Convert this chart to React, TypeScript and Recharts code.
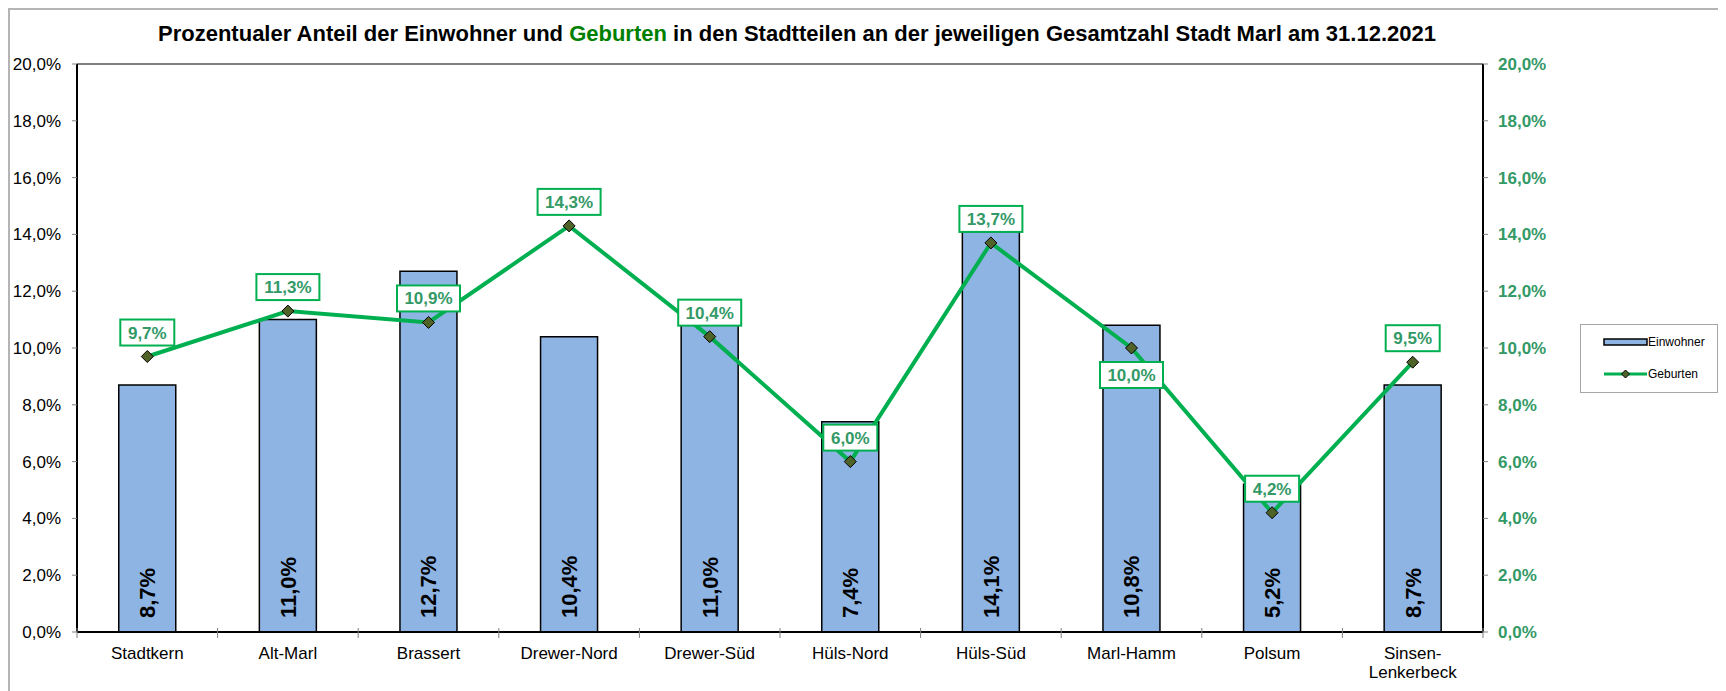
import React from 'react';
import { ComposedChart, Bar, Line, XAxis, YAxis, ReferenceLine, LabelList, Legend } from 'recharts';

const categories = ['Stadtkern', 'Alt-Marl', 'Brassert', 'Drewer-Nord', 'Drewer-Süd', 'Hüls-Nord', 'Hüls-Süd', 'Marl-Hamm', 'Polsum', 'Sinsen-Lenkerbeck'];
const tickLabels = ['Stadtkern', 'Alt-Marl', 'Brassert', 'Drewer-Nord', 'Drewer-Süd', 'Hüls-Nord', 'Hüls-Süd', 'Marl-Hamm', 'Polsum', 'Sinsen-\nLenkerbeck'];
const einwohner = [8.7, 11.0, 12.7, 10.4, 11.0, 7.4, 14.1, 10.8, 5.2, 8.7];
const geburten = [9.7, 11.3, 10.9, 14.3, 10.4, 6.0, 13.7, 10.0, 4.2, 9.5];
const yTicks = [0, 2, 4, 6, 8, 10, 12, 14, 16, 18, 20];
const labelsBelow = ['Marl-Hamm'];

const data = categories.map((c, i) => ({
  name: c,
  label: tickLabels[i],
  einwohner: einwohner[i],
  geburten: geburten[i],
}));

const FONT = '"Liberation Sans", Arial, Helvetica, sans-serif';
const W = 1718;
const H = 683;
const MARGIN = { top: 56, right: 163, bottom: 9, left: 0 };
const LEFT_W = 69;
const RIGHT_W = 80;
const PLOT_W = W - MARGIN.left - MARGIN.right - LEFT_W - RIGHT_W;
const BAND = PLOT_W / categories.length;

const BAR_COLOR = '#8EB4E3';
const LINE_COLOR = '#00B050';
const LABEL_GREEN = '#339966';

const fmt = (v: number) => v.toFixed(1).replace('.', ',') + '%';

const XTick = (props: any) => {
  const { x, y, payload, index } = props;
  const axisY = y - 5;
  const lines = String(payload.value).split('\n');
  return (
    <g>
      <line x1={x - BAND / 2} x2={x - BAND / 2} y1={axisY - 4} y2={axisY + 6} stroke="#808080" strokeWidth={1} />
      {index === categories.length - 1 && (
        <line x1={x + BAND / 2} x2={x + BAND / 2} y1={axisY - 4} y2={axisY + 6} stroke="#808080" strokeWidth={1} />
      )}
      <text x={x} y={axisY + 27} textAnchor="middle" fontSize={17} fill="#000" fontFamily={FONT}>
        {lines.map((l, i) => (
          <tspan key={i} x={x} dy={i === 0 ? 0 : 19}>{l}</tspan>
        ))}
      </text>
    </g>
  );
};

const BarLabel = (props: any) => {
  const { x, y, width, height, value } = props;
  const cx = x + width / 2 + 8;
  const base = y + height - 14;
  return (
    <text
      x={cx}
      y={base}
      transform={`rotate(-90, ${cx}, ${base})`}
      textAnchor="start"
      fontSize={22}
      fontWeight="bold"
      fill="#000"
      fontFamily={FONT}
    >
      {fmt(value)}
    </text>
  );
};

const LineLabel = (props: any) => {
  const { x, y, value, index } = props;
  const txt = fmt(value);
  const w = 18 + 9 * txt.length;
  const h = 26;
  const below = labelsBelow.includes(categories[index]);
  const top = below ? y + 14 : y - 11 - h;
  return (
    <g>
      <rect x={x - w / 2} y={top} width={w} height={h} fill="#fff" stroke={LINE_COLOR} strokeWidth={2} />
      <text x={x} y={top + h / 2 + 6} textAnchor="middle" fontSize={17} fontWeight="bold" fill={LABEL_GREEN} fontFamily={FONT}>
        {txt}
      </text>
    </g>
  );
};

const Diamond = (props: any) => {
  const { cx, cy, index } = props;
  const r = 6;
  return (
    <path
      key={`d-${index}`}
      d={`M ${cx} ${cy - r} L ${cx + r} ${cy} L ${cx} ${cy + r} L ${cx - r} ${cy} Z`}
      fill="#4F6228"
      stroke="#000"
      strokeWidth={1}
    />
  );
};

const LegendBox = () => (
  <svg width={138} height={69} style={{ display: 'block', fontFamily: FONT, overflow: 'visible' }}>
    <rect x={0.5} y={0.5} width={137} height={68} fill="#fff" stroke="#A6A6A6" strokeWidth={1} />
    <rect x={24} y={15} width={43} height={6} fill={BAR_COLOR} stroke="#000" strokeWidth={1.5} />
    <line x1={24} x2={67} y1={50} y2={50} stroke={LINE_COLOR} strokeWidth={3} />
    <path d="M 45.5 46 L 49.5 50 L 45.5 54 L 41.5 50 Z" fill="#4F6228" stroke="#000" strokeWidth={1} />
    <text x={68} y={22} fontSize={12} fontFamily={FONT} fill="#000">Einwohner</text>
    <text x={68} y={54} fontSize={12} fontFamily={FONT} fill="#000">Geburten</text>
  </svg>
);

export default function App() {
  return (
    <div style={{ position: 'relative', width: W, height: H, fontFamily: FONT }}>
      <div
        style={{
          position: 'absolute',
          left: 0,
          top: 0,
          width: W,
          height: H,
          borderTop: '2px solid #B4B4B4',
          borderLeft: '2px solid #B4B4B4',
          boxSizing: 'border-box',
          pointerEvents: 'none',
        }}
      />
      <div
        style={{
          position: 'absolute',
          left: 0,
          top: 13,
          width: 1578,
          textAlign: 'center',
          fontSize: 22,
          fontWeight: 'bold',
          lineHeight: '26px',
          color: '#000',
          fontFamily: FONT,
          zIndex: 2,
        }}
      >
        Prozentualer Anteil der Einwohner und <span style={{ color: '#008000' }}>Geburten</span> in den Stadtteilen an der jeweiligen Gesamtzahl Stadt Marl am 31.12.2021
      </div>
      <ComposedChart width={W} height={H} data={data} margin={MARGIN} barCategoryGap="29.7%">
        <XAxis
          dataKey="label"
          xAxisId="x"
          height={50}
          tickSize={5}
          tickMargin={0}
          tickLine={false}
          axisLine={{ stroke: '#000', strokeWidth: 2 }}
          tick={<XTick />}
          interval={0}
        />
        <YAxis
          yAxisId="left"
          orientation="left"
          width={LEFT_W}
          domain={[0, 20]}
          ticks={yTicks}
          tickFormatter={fmt}
          tickSize={5}
          tickMargin={11}
          tickLine={{ stroke: '#808080' }}
          axisLine={{ stroke: '#000', strokeWidth: 2 }}
          tick={{ fontSize: 17, fill: '#000', fontFamily: FONT }}
          allowDataOverflow
          interval={0}
        />
        <YAxis
          yAxisId="right"
          orientation="right"
          width={RIGHT_W}
          domain={[0, 20]}
          ticks={yTicks}
          tickFormatter={fmt}
          tickSize={5}
          tickMargin={10}
          tickLine={{ stroke: '#808080' }}
          axisLine={{ stroke: '#000', strokeWidth: 2 }}
          tick={{ fontSize: 17, fill: LABEL_GREEN, fontWeight: 'bold', fontFamily: FONT }}
          allowDataOverflow
          interval={0}
        />
        <ReferenceLine yAxisId="left" xAxisId="x" y={20} stroke="#808080" strokeWidth={2} />
        <Legend
          layout="horizontal"
          verticalAlign="middle"
          align="center"
          width={138}
          height={69}
          content={<LegendBox />}
          wrapperStyle={{ position: 'absolute', left: 1572, top: 316, width: 138, height: 69, overflow: 'visible' }}
        />
        <Bar
          dataKey="einwohner"
          name="Einwohner"
          xAxisId="x"
          yAxisId="left"
          fill={BAR_COLOR}
          stroke="#000"
          strokeWidth={1.5}
          isAnimationActive={false}
        >
          <LabelList dataKey="einwohner" content={<BarLabel />} />
        </Bar>
        <Line
          dataKey="geburten"
          name="Geburten"
          xAxisId="x"
          yAxisId="right"
          stroke={LINE_COLOR}
          strokeWidth={4}
          dot={<Diamond />}
          activeDot={false}
          isAnimationActive={false}
        >
          <LabelList dataKey="geburten" content={<LineLabel />} />
        </Line>
      </ComposedChart>
    </div>
  );
}
